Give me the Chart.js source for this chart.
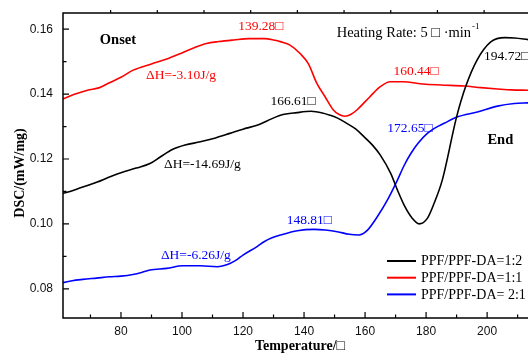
<!DOCTYPE html>
<html>
<head>
<meta charset="utf-8">
<script src="https://cdn.jsdelivr.net/npm/chart.js@4.4.0/dist/chart.umd.min.js"></script>
<style>
  html, body { margin: 0; padding: 0; background: #fff; overflow: hidden; }
  #wrap { width: 528px; height: 363px; position: relative; }
</style>
</head>
<body>
<div id="wrap"><canvas id="dsc"></canvas></div>
<script>
const seriesNames = ['PPF/PPF-DA=1:2', 'PPF/PPF-DA=1:1', 'PPF/PPF-DA= 2:1'];
const seriesColors = ['#000000', '#ff0000', '#0000ff'];

// temperature (deg C), DSC (mW/mg)
const tempBlack = [61, 63.3, 67, 72, 76.4, 80, 85, 89.5, 93, 97, 101, 106, 111, 115.7, 120, 124.6, 128, 132.3, 137.7, 142.3, 146, 148.5, 151, 154, 157, 159.7, 162.5, 165, 168.4, 170.8, 172.8, 175.5, 177.7, 180.4, 182.6, 185.3, 190, 193, 196.7, 201.2, 205.9, 209, 213.4];
const dscBlack  = [0.1094, 0.1100, 0.1112, 0.1128, 0.1145, 0.1158, 0.1172, 0.1186, 0.1207, 0.1230, 0.1243, 0.1253, 0.1265, 0.1279, 0.1292, 0.1304, 0.1318, 0.1335, 0.1343, 0.1347, 0.1342, 0.1335, 0.1326, 0.1310, 0.1292, 0.1268, 0.1242, 0.1212, 0.1156, 0.1100, 0.1058, 0.1017, 0.1000, 0.1017, 0.1063, 0.1135, 0.1330, 0.1424, 0.1505, 0.1561, 0.1574, 0.1573, 0.1568];

const tempRed = [61, 65, 69, 73, 76, 80, 84, 90, 95, 100, 104, 108, 112, 117, 122, 127, 130, 132.5, 135.4, 138.7, 141.4, 144.2, 146.9, 149.6, 151.5, 153.4, 155.3, 157.3, 161.6, 164.9, 168.2, 172.5, 179, 185, 192.5, 198, 203.4, 208, 213.4];
const dscRed  = [0.1385, 0.1400, 0.1412, 0.1420, 0.1434, 0.1452, 0.1474, 0.1493, 0.1508, 0.1527, 0.1543, 0.1556, 0.1562, 0.1567, 0.1571, 0.1571, 0.1567, 0.1561, 0.1551, 0.1525, 0.1494, 0.1433, 0.1392, 0.1351, 0.1337, 0.1332, 0.1337, 0.1351, 0.1392, 0.1422, 0.1438, 0.1438, 0.1431, 0.1428, 0.1425, 0.1420, 0.1416, 0.1413, 0.1412];

const tempBlue = [61, 64, 67.5, 72, 76.4, 80, 83.9, 87, 89.5, 95, 100.3, 105.9, 111.5, 113.5, 115.7, 118, 120, 124.6, 126.9, 129.5, 132.4, 137.8, 143.3, 147, 150.9, 154.8, 158, 160.8, 164, 167.3, 170.6, 172.8, 175, 177.5, 180.4, 183, 185.9, 190.3, 196.8, 203.4, 208.9, 213.4];
const dscBlue  = [0.0819, 0.0825, 0.0829, 0.0833, 0.0837, 0.0839, 0.0844, 0.0851, 0.0858, 0.0863, 0.0871, 0.0871, 0.0868, 0.0871, 0.0878, 0.0890, 0.0904, 0.0930, 0.0945, 0.0957, 0.0966, 0.0979, 0.0983, 0.0981, 0.0976, 0.0968, 0.0966, 0.0981, 0.1022, 0.1073, 0.1135, 0.1180, 0.1217, 0.1250, 0.1279, 0.1296, 0.1310, 0.1330, 0.1345, 0.1363, 0.1371, 0.1373];

const xTicks = [80, 100, 120, 140, 160, 180, 200];
const xMinorTicks = [70, 90, 110, 130, 150, 170, 190, 210];
const yTicks = [0.08, 0.10, 0.12, 0.14, 0.16];
const yMinorTicks = [0.09, 0.11, 0.13, 0.15];
const topTicks = [0, 1, 2, 3, 4, 5, 6, 7, 8];

// text labels placed at (temperature, dsc)
const notes = [
  { text: 'Onset', x: 79.0, y: 0.1566, color: '#000', bold: true, align: 'center' },
  { text: '\u0394H=-3.10J/g', x: 88.2, y: 0.1458, color: '#ff0000' },
  { text: '139.28\u25A1', x: 118.4, y: 0.1607, color: '#ff0000' },
  { text: '160.44\u25A1', x: 169.3, y: 0.1471, color: '#ff0000' },
  { text: '166.61\u25A1', x: 129.0, y: 0.1378, color: '#000' },
  { text: '194.72\u25A1', x: 199.0, y: 0.1517, color: '#000' },
  { text: '172.65\u25A1', x: 167.3, y: 0.1295, color: '#0000ff' },
  { text: 'End', x: 200.1, y: 0.1258, color: '#000', bold: true },
  { text: '\u0394H=-14.69J/g', x: 94.1, y: 0.1184, color: '#000' },
  { text: '\u0394H=-6.26J/g', x: 93.1, y: 0.0904, color: '#0000ff' },
  { text: '148.81\u25A1', x: 134.3, y: 0.1010, color: '#0000ff' }
];

function toPoints(xs, ys) {
  return xs.map((x, i) => ({ x: x, y: ys[i] }));
}

const SERIF = '"Liberation Serif", "Times New Roman", serif';

const framePlugin = {
  id: 'frame',
  afterDatasetsDraw(chart) {
    const ctx = chart.ctx;
    const a = chart.chartArea;
    const xs = chart.scales.x, ys = chart.scales.y, xt = chart.scales.x2;
    ctx.save();
    ctx.strokeStyle = '#000';
    ctx.lineWidth = 1.5;
    ctx.beginPath();
    ctx.moveTo(a.right + 2, a.top);
    ctx.lineTo(a.left, a.top);
    ctx.lineTo(a.left, a.bottom);
    ctx.lineTo(a.right + 2, a.bottom);
    ctx.stroke();

    ctx.lineWidth = 1.2;
    ctx.beginPath();
    xTicks.forEach(v => { const p = xs.getPixelForValue(v); ctx.moveTo(p, a.bottom); ctx.lineTo(p, a.bottom - 6); });
    xMinorTicks.forEach(v => { const p = xs.getPixelForValue(v); ctx.moveTo(p, a.bottom); ctx.lineTo(p, a.bottom - 3.5); });
    yTicks.forEach(v => { const p = ys.getPixelForValue(v); ctx.moveTo(a.left, p); ctx.lineTo(a.left + 6, p); });
    yMinorTicks.forEach(v => { const p = ys.getPixelForValue(v); ctx.moveTo(a.left, p); ctx.lineTo(a.left + 3.5, p); });
    topTicks.forEach(v => { const p = xt.getPixelForValue(v); ctx.moveTo(p, a.top); ctx.lineTo(p, a.top - 3); });
    ctx.stroke();
    ctx.restore();
  },
  afterDraw(chart) {
    const ctx = chart.ctx;
    const xs = chart.scales.x, ys = chart.scales.y;
    ctx.save();
    ctx.textBaseline = 'middle';

    notes.forEach(n => {
      ctx.font = (n.bold ? 'bold 14.5px ' : '13.5px ') + SERIF;
      ctx.fillStyle = n.color;
      ctx.textAlign = n.align || 'left';
      ctx.fillText(n.text, xs.getPixelForValue(n.x), ys.getPixelForValue(n.y));
    });

    // heating rate note with superscript
    ctx.fillStyle = '#000';
    ctx.textAlign = 'left';
    ctx.font = '14.5px ' + SERIF;
    const hx = xs.getPixelForValue(150.7), hy = ys.getPixelForValue(0.1588);
    const main = 'Heating Rate: 5 \u25A1 \u00B7min';
    ctx.fillText(main, hx, hy);
    const w = ctx.measureText(main).width;
    ctx.font = '9px ' + SERIF;
    ctx.fillText('-1', hx + w + 1, hy - 6);

    // legend
    ctx.font = '14px ' + SERIF;
    seriesNames.forEach((name, i) => {
      const ly = 261 + i * 16.7;
      ctx.strokeStyle = seriesColors[i];
      ctx.lineWidth = 2;
      ctx.beginPath();
      ctx.moveTo(387, ly);
      ctx.lineTo(416, ly);
      ctx.stroke();
      ctx.fillStyle = '#000';
      ctx.fillText(name, 421, ly + 0.5);
    });

    // axis titles
    ctx.font = 'bold 14px ' + SERIF;
    ctx.textAlign = 'center';
    ctx.fillText('Temperature/\u25A1', 300, 346);
    ctx.save();
    ctx.translate(20, 173);
    ctx.rotate(-Math.PI / 2);
    ctx.fillText('DSC/(mW/mg)', 0, 0);
    ctx.restore();
    ctx.restore();
  }
};

const lineStyle = { borderWidth: 1.6, pointRadius: 0, fill: false, cubicInterpolationMode: 'monotone' };

new Chart(document.getElementById('dsc'), {
  type: 'line',
  data: {
    datasets: [
      Object.assign({ label: seriesNames[0], data: toPoints(tempBlack, dscBlack), borderColor: seriesColors[0] }, lineStyle),
      Object.assign({ label: seriesNames[1], data: toPoints(tempRed, dscRed), borderColor: seriesColors[1] }, lineStyle),
      Object.assign({ label: seriesNames[2], data: toPoints(tempBlue, dscBlue), borderColor: seriesColors[2] }, lineStyle)
    ]
  },
  options: {
    responsive: true,
    maintainAspectRatio: false,
    animation: false,
    layout: { padding: { top: 13, right: 0, left: 0, bottom: 0 } },
    plugins: { legend: { display: false }, tooltip: { enabled: false } },
    scales: {
      x: {
        type: 'linear',
        min: 61,
        max: 213.4,
        grid: { display: false, drawTicks: false },
        border: { display: false },
        afterBuildTicks: s => { s.ticks = xTicks.map(v => ({ value: v })); },
        afterFit: s => { s.height = 45; s.paddingLeft = 0; s.paddingRight = 0; },
        ticks: {
          padding: 6,
          color: '#111',
          font: { family: '"Liberation Sans", Arial, sans-serif', size: 12 },
          maxRotation: 0
        }
      },
      x2: {
        type: 'linear',
        position: 'top',
        min: -1.02,
        max: 8.94,
        grid: { display: false, drawTicks: false },
        border: { display: false },
        ticks: { display: false },
        afterFit: s => { s.height = 0; s.paddingLeft = 0; s.paddingRight = 0; }
      },
      y: {
        min: 0.071,
        max: 0.165,
        grid: { display: false, drawTicks: false },
        border: { display: false },
        afterBuildTicks: s => { s.ticks = yTicks.map(v => ({ value: v })); },
        afterFit: s => { s.width = 63; s.paddingTop = 0; s.paddingBottom = 0; },
        ticks: {
          padding: 10,
          color: '#111',
          font: { family: '"Liberation Sans", Arial, sans-serif', size: 12 },
          callback: v => v.toFixed(2)
        }
      }
    }
  },
  plugins: [framePlugin]
});
</script>
</body>
</html>
